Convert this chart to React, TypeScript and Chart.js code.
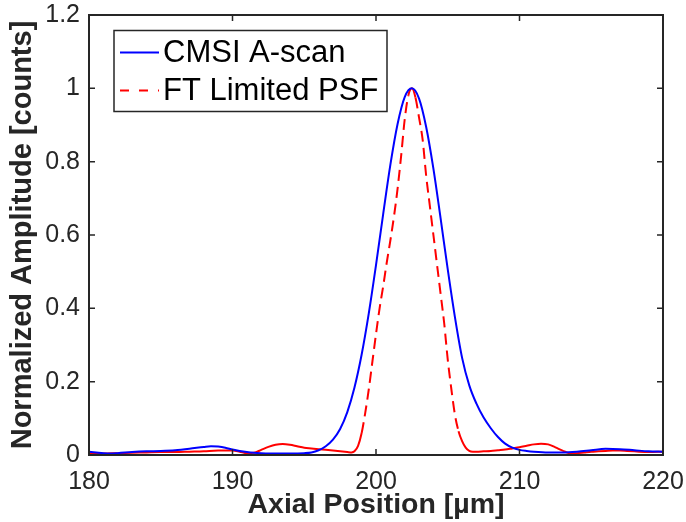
import React, { useEffect, useRef } from 'react';
import { Chart, registerables } from 'chart.js';

Chart.register(...registerables);

// Axis ticks
const xTicks = [180, 190, 200, 210, 220];
const xTickLabels = ['180', '190', '200', '210', '220'];
const yTicks = [0, 0.2, 0.4, 0.6, 0.8, 1, 1.2];
const yTickLabels = ['0', '0.2', '0.4', '0.6', '0.8', '1', '1.2'];

// CMSI A-scan (blue, solid)
const cmsiX = [180, 180.5, 181, 181.5, 182, 183, 184, 185, 186, 187, 188, 188.5, 189, 189.5, 190, 190.5, 191, 191.5, 192, 193, 194, 195, 195.5, 196, 196.5, 197, 197.5, 198, 198.5, 199, 199.5, 200, 200.5, 201, 201.5, 202, 202.5, 203, 203.5, 204, 204.5, 205, 205.5, 206, 206.5, 207, 207.5, 208, 208.5, 209, 209.5, 210, 210.5, 211, 212, 213, 214, 215, 216, 217, 218, 219, 220];
const cmsiY = [0.009, 0.007, 0.005, 0.004, 0.005, 0.008, 0.010, 0.011, 0.013, 0.017, 0.022, 0.024, 0.023, 0.020, 0.015, 0.011, 0.008, 0.006, 0.005, 0.004, 0.004, 0.005, 0.007, 0.013, 0.024, 0.042, 0.071, 0.117, 0.184, 0.274, 0.387, 0.518, 0.657, 0.791, 0.902, 0.976, 1.0, 0.972, 0.894, 0.781, 0.646, 0.506, 0.376, 0.265, 0.19, 0.14, 0.102, 0.073, 0.049, 0.031, 0.02, 0.014, 0.011, 0.009, 0.007, 0.007, 0.009, 0.013, 0.017, 0.016, 0.013, 0.010, 0.009];

// FT Limited PSF (red, dashed)
const psfX = [180, 181, 182, 183, 184, 185, 186, 187, 188, 189, 190, 190.5, 191, 191.5, 192, 192.5, 193, 193.5, 194, 194.5, 195, 195.5, 196, 196.5, 197, 197.5, 198, 198.3, 198.5, 198.75, 199, 199.25, 199.5, 199.75, 200, 200.25, 200.5, 200.75, 201, 201.25, 201.5, 201.75, 202, 202.25, 202.5, 202.75, 203, 203.25, 203.5, 203.75, 204, 204.25, 204.5, 204.75, 205, 205.25, 205.5, 205.75, 206, 206.25, 206.5, 206.75, 207, 207.5, 208, 208.5, 209, 209.5, 210, 210.5, 211, 211.5, 212, 212.5, 213, 213.5, 214, 214.5, 215, 215.5, 216, 216.5, 217, 217.5, 218, 219, 220];
const psfY = [0.005, 0.004, 0.005, 0.006, 0.007, 0.008, 0.008, 0.009, 0.010, 0.012, 0.012, 0.009, 0.005, 0.006, 0.014, 0.022, 0.028, 0.030, 0.028, 0.024, 0.020, 0.018, 0.016, 0.014, 0.012, 0.010, 0.008, 0.007, 0.01, 0.025, 0.06, 0.115, 0.18, 0.255, 0.33, 0.40, 0.46, 0.525, 0.585, 0.65, 0.725, 0.815, 0.915, 0.98, 1.0, 0.975, 0.92, 0.86, 0.76, 0.68, 0.60, 0.52, 0.44, 0.36, 0.26, 0.18, 0.11, 0.065, 0.038, 0.02, 0.011, 0.009, 0.009, 0.01, 0.011, 0.013, 0.015, 0.018, 0.021, 0.025, 0.029, 0.031, 0.029, 0.021, 0.012, 0.005, 0.005, 0.007, 0.009, 0.010, 0.011, 0.012, 0.012, 0.011, 0.010, 0.008, 0.009];

const seriesLabels = ['CMSI A-scan', 'FT Limited PSF'];
const AXIS_COLOR = '#262626';
const FONT = "'Liberation Sans', Arial, Helvetica, sans-serif";

const zeroPadding = (s: any) => {
  s.paddingLeft = 0;
  s.paddingRight = 0;
  s.paddingTop = 0;
  s.paddingBottom = 0;
};

export default function App() {
  const ref = useRef<HTMLCanvasElement>(null);

  useEffect(() => {
    const canvas = ref.current;
    if (!canvas) return;

    const framePlugin = {
      id: 'matlabFrame',
      afterDatasetsDraw(chart: any) {
        const { ctx, chartArea, scales } = chart;
        const { left, right, top, bottom } = chartArea;
        const L = 6;
        ctx.save();
        ctx.strokeStyle = AXIS_COLOR;
        ctx.lineWidth = 2;
        ctx.strokeRect(left, top, right - left, bottom - top);
        ctx.lineWidth = 1.5;
        ctx.beginPath();
        xTicks.forEach((v) => {
          const px = scales.x.getPixelForValue(v);
          ctx.moveTo(px, bottom);
          ctx.lineTo(px, bottom - L);
          ctx.moveTo(px, top);
          ctx.lineTo(px, top + L);
        });
        yTicks.forEach((v) => {
          const py = scales.y.getPixelForValue(v);
          ctx.moveTo(left, py);
          ctx.lineTo(left + L, py);
          ctx.moveTo(right, py);
          ctx.lineTo(right - L, py);
        });
        ctx.stroke();
        ctx.restore();
      },
    };

    const legendPlugin = {
      id: 'boxLegend',
      afterDraw(chart: any) {
        const { ctx, chartArea } = chart;
        const bx = chartArea.left + 25;
        const by = chartArea.top + 15.5;
        const bw = 273;
        const bh = 81;
        ctx.save();
        ctx.fillStyle = '#ffffff';
        ctx.fillRect(bx, by, bw, bh);
        ctx.strokeStyle = AXIS_COLOR;
        ctx.lineWidth = 1.5;
        ctx.strokeRect(bx, by, bw, bh);
        const ds = chart.data.datasets;
        const rows = [by + 22, by + 60];
        ctx.font = `31px ${FONT}`;
        ctx.textBaseline = 'middle';
        ctx.textAlign = 'left';
        ds.forEach((d: any, i: number) => {
          const ry = rows[i];
          ctx.strokeStyle = d.borderColor;
          ctx.lineWidth = 2;
          ctx.setLineDash(i === 1 ? [9, 10] : []);
          ctx.beginPath();
          ctx.moveTo(bx + 6, ry);
          ctx.lineTo(bx + 45, ry);
          ctx.stroke();
          ctx.setLineDash([]);
          ctx.fillStyle = '#000000';
          ctx.fillText(d.label, bx + 49, ry + 1);
        });
        ctx.restore();
      },
    };

    const chart = new Chart(canvas, {
      type: 'line',
      data: {
        datasets: [
          {
            label: seriesLabels[0],
            data: cmsiX.map((x, i) => ({ x, y: cmsiY[i] })),
            borderColor: '#0000ff',
            backgroundColor: '#0000ff',
            borderWidth: 2,
            pointRadius: 0,
            cubicInterpolationMode: 'monotone',
            fill: false,
          },
          {
            label: seriesLabels[1],
            data: psfX.map((x, i) => ({ x, y: psfY[i] })),
            borderColor: '#ff0000',
            backgroundColor: '#ff0000',
            borderWidth: 2,
            pointRadius: 0,
            cubicInterpolationMode: 'monotone',
            fill: false,
            segment: {
              borderDash: (c: any) =>
                Math.abs(c.p1.y - c.p0.y) > 15 ? [11, 6] : undefined,
            },
          },
        ] as any,
      },
      options: {
        responsive: false,
        animation: false,
        devicePixelRatio: 1,
        layout: { padding: { top: 15, right: 23, left: 0, bottom: 0 } },
        plugins: {
          legend: { display: false },
          tooltip: { enabled: false },
        },
        scales: {
          x: {
            type: 'linear',
            min: 180,
            max: 220,
            afterFit: (s: any) => {
              s.height = 67;
              zeroPadding(s);
            },
            afterBuildTicks: (s: any) => {
              s.ticks = xTicks.map((v) => ({ value: v }));
            },
            grid: { display: false, drawTicks: false },
            border: { display: false },
            ticks: {
              padding: 12,
              color: AXIS_COLOR,
              font: { family: FONT, size: 25 },
              maxRotation: 0,
              autoSkip: false,
              callback: (_v: any, i: number) => xTickLabels[i],
            },
            title: {
              display: true,
              text: 'Axial Position [µm]',
              color: AXIS_COLOR,
              font: { family: FONT, size: 28.5, weight: 'bold' },
              padding: { top: 0, bottom: 0 },
            },
          },
          y: {
            type: 'linear',
            min: 0,
            max: 1.2,
            afterFit: (s: any) => {
              s.width = 89;
              zeroPadding(s);
            },
            afterBuildTicks: (s: any) => {
              s.ticks = yTicks.map((v) => ({ value: v }));
            },
            grid: { display: false, drawTicks: false },
            border: { display: false },
            ticks: {
              padding: 9,
              color: AXIS_COLOR,
              font: { family: FONT, size: 25 },
              autoSkip: false,
              callback: (_v: any, i: number) => yTickLabels[i],
            },
            title: {
              display: true,
              text: 'Normalized Amplitude [counts]',
              color: AXIS_COLOR,
              font: { family: FONT, size: 29, weight: 'bold' },
              padding: { top: 6, bottom: 0 },
            },
          },
        },
      } as any,
      plugins: [framePlugin, legendPlugin],
    });

    return () => chart.destroy();
  }, []);

  return (
    <div style={{ position: 'fixed', left: 0, top: 0, width: 686, height: 522, background: '#ffffff' }}>
      <canvas ref={ref} width={686} height={522} style={{ display: 'block', width: 686, height: 522 }} />
    </div>
  );
}
